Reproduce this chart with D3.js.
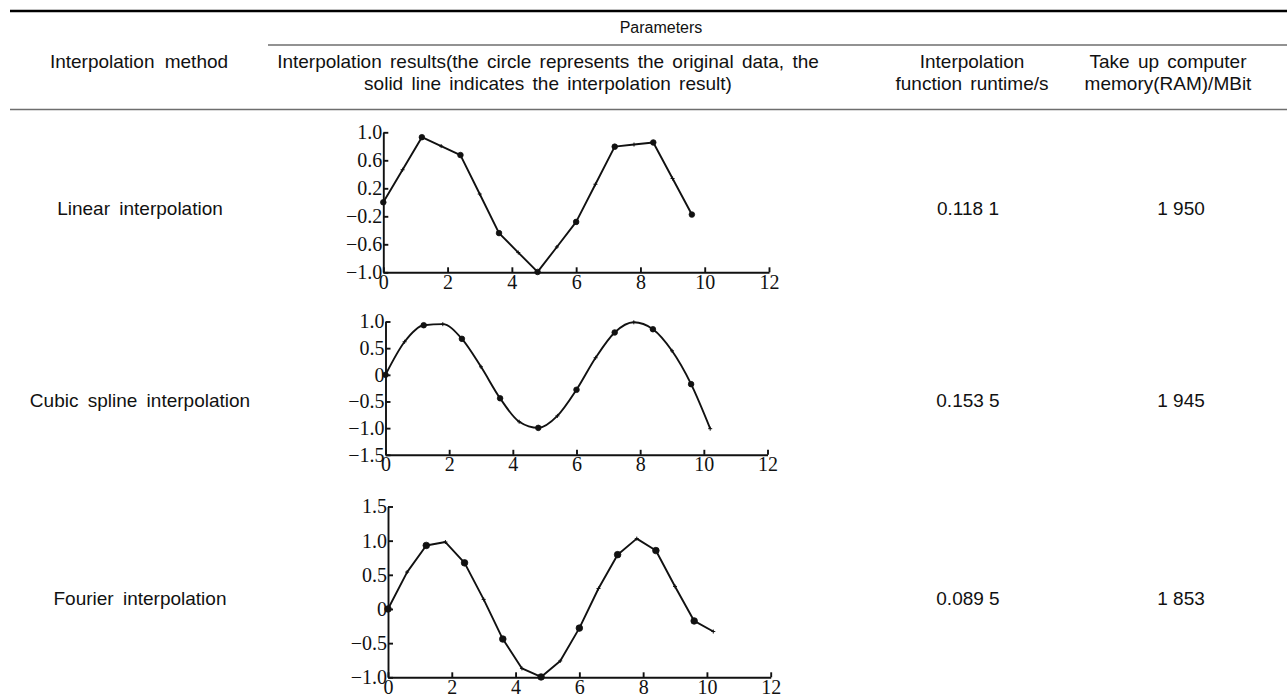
<!DOCTYPE html>
<html>
<head>
<meta charset="utf-8">
<script src="https://cdn.jsdelivr.net/npm/d3@7"></script>
<style>
  html, body { margin: 0; padding: 0; background: #fff; }
  svg { display: block; }
</style>
</head>
<body>
<svg id="chart" width="1287" height="700"></svg>
<script>
// ---------------- data ----------------
const methods  = ["Linear interpolation", "Cubic spline interpolation", "Fourier interpolation"];
const runtimes = ["0.118 1", "0.153 5", "0.089 5"];
const memories = ["1 950", "1 945", "1 853"];

const xTicks = [0, 2, 4, 6, 8, 10, 12];
const yTicksLinear  = [-1.0, -0.6, -0.2, 0.2, 0.6, 1.0];
const yTicksCubic   = [-1.5, -1.0, -0.5, 0, 0.5, 1.0];
const yTicksFourier = [-1.0, -0.5, 0, 0.5, 1.0, 1.5];

// original samples (circles)
const origX = [0, 1.2, 2.4, 3.6, 4.8, 6.0, 7.2, 8.4, 9.6];
const origY = [0, 0.93, 0.675, -0.44, -0.995, -0.28, 0.795, 0.855, -0.175];

// interpolation points
const interpX = [0, 0.6, 1.2, 1.8, 2.4, 3.0, 3.6, 4.2, 4.8, 5.4, 6.0, 6.6, 7.2, 7.8, 8.4, 9.0, 9.6, 10.2];
const linearY  = [0, 0.465, 0.93, 0.803, 0.675, 0.118, -0.44, -0.718, -0.995, -0.638, -0.28, 0.258, 0.795, 0.825, 0.855, 0.34, -0.175];
const cubicY   = [0, 0.62, 0.93, 0.95, 0.675, 0.15, -0.44, -0.88, -0.995, -0.77, -0.28, 0.32, 0.795, 0.985, 0.855, 0.45, -0.175, -1.01];
const fourierY = [0, 0.54, 0.93, 0.98, 0.675, 0.14, -0.44, -0.87, -0.995, -0.76, -0.28, 0.30, 0.795, 1.03, 0.855, 0.33, -0.175, -0.33];

// ---------------- drawing ----------------
const svg = d3.select("#chart");
const sans = "'Liberation Sans', Arial, sans-serif";
const serif = "'Liberation Serif', 'Times New Roman', serif";
const fs = 19;

// rules
svg.append("line").attr("x1", 10).attr("x2", 1287).attr("y1", 11).attr("y2", 11)
  .attr("stroke", "#000").attr("stroke-width", 2.6);
svg.append("line").attr("x1", 268).attr("x2", 1287).attr("y1", 45).attr("y2", 45)
  .attr("stroke", "#6e6e6e").attr("stroke-width", 1.6);
svg.append("line").attr("x1", 10).attr("x2", 1287).attr("y1", 109.5).attr("y2", 109.5)
  .attr("stroke", "#6e6e6e").attr("stroke-width", 1.6);

function txt(x, y, s, size, ws) {
  svg.append("text").attr("x", x).attr("y", y)
    .attr("text-anchor", "middle")
    .attr("font-family", sans).attr("font-size", size || fs)
    .attr("word-spacing", ws === undefined ? 3 : ws)
    .attr("fill", "#111").text(s);
}

// header
txt(661, 33, "Parameters", 16, 0);
txt(139, 67.5, "Interpolation method", fs, 5);
txt(548, 67.5, "Interpolation results(the circle represents the original data, the");
txt(548, 89.5, "solid line indicates the interpolation result)");
txt(972, 67.5, "Interpolation");
txt(972, 89.5, "function runtime/s");
txt(1168, 67.5, "Take up computer");
txt(1168, 89.5, "memory(RAM)/MBit");

// body text
const rowBase = [214.5, 407, 605];
methods.forEach((m, i) => {
  txt(140, rowBase[i], m, fs, 4);
  txt(968, rowBase[i], runtimes[i], fs, 0);
  txt(1181, rowBase[i], memories[i], fs, 0);
});

// charts
const charts = [
  { ys: linearY,  yDomain: [-1, 1],   yTicks: yTicksLinear,  xr: [383.3, 769], yr: [272.3, 132.3], curve: d3.curveLinear, r: 2.8 },
  { ys: cubicY,   yDomain: [-1.5, 1], yTicks: yTicksCubic,   xr: [385.5, 767.5], yr: [454.8, 321.5], curve: d3.curveMonotoneX, r: 2.8 },
  { ys: fourierY, yDomain: [-1, 1.5], yTicks: yTicksFourier, xr: [388, 770.7], yr: [677.3, 506.5], curve: d3.curveLinear, r: 3.3 }
];

const fmt = v => v === 0 ? "0" : d3.format(".1f")(v);

charts.forEach(c => {
  const x = d3.scaleLinear().domain([0, 12]).range(c.xr);
  const y = d3.scaleLinear().domain(c.yDomain).range(c.yr);
  const g = svg.append("g");

  const ax = g.append("g").attr("transform", `translate(0,${c.yr[0]})`)
    .call(d3.axisBottom(x).tickValues(xTicks).tickSizeInner(-5).tickSizeOuter(0).tickPadding(2).tickFormat(d3.format("d")));
  const ay = g.append("g").attr("transform", `translate(${c.xr[0]},0)`)
    .call(d3.axisLeft(y).tickValues(c.yTicks).tickSizeInner(-5).tickSizeOuter(0).tickPadding(1).tickFormat(fmt));
  [ax, ay].forEach(a => {
    a.attr("font-family", serif).attr("font-size", 20);
    a.selectAll("path, line").attr("stroke", "#111").attr("stroke-width", 1.9);
    a.selectAll("text").attr("fill", "#111");
  });

  const pts = c.ys.map((v, i) => [interpX[i], v]);
  g.append("path").datum(pts)
    .attr("fill", "none").attr("stroke", "#111").attr("stroke-width", 1.9)
    .attr("stroke-linejoin", "round")
    .attr("d", d3.line().x(d => x(d[0])).y(d => y(d[1])).curve(c.curve));

  // small interpolation marks
  g.selectAll(".pm").data(pts).enter().append("path")
    .attr("d", d => {
      const px = x(d[0]), py = y(d[1]);
      return `M${px - 2},${py}H${px + 2}M${px},${py - 2}V${py + 2}`;
    })
    .attr("stroke", "#111").attr("stroke-width", 1);

  // original data circles
  g.selectAll(".oc").data(origX.map((xv, i) => [xv, origY[i]])).enter().append("circle")
    .attr("cx", d => x(d[0])).attr("cy", d => y(d[1])).attr("r", c.r)
    .attr("fill", "#111").attr("stroke", "#111").attr("stroke-width", 0.8);
});
</script>
</body>
</html>
